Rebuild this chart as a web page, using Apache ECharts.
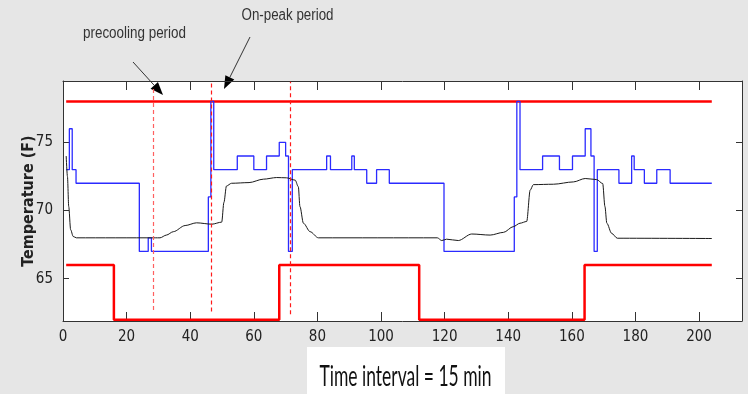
<!DOCTYPE html>
<html>
<head>
<meta charset="utf-8">
<script src="https://cdn.jsdelivr.net/npm/echarts@6/dist/echarts.min.js"></script>
<style>
  html, body { margin: 0; padding: 0; background: #e6e6e6; }
  #chart { width: 748px; height: 394px; }
</style>
</head>
<body>
<div id="chart"></div>
<script>
// setpoint (blue) - step changes, value holds until next x
const setX = [1, 2, 2.9, 4.1, 24, 26.8, 27.8, 45.7, 46.5, 47.4, 54.8, 60, 64, 68, 70, 70.9, 72.1,
  82.9, 84.1, 90.8, 91.6, 95.5, 98.6, 102.6, 119.8, 141.9, 142.7, 143.7, 150.8, 156.1, 160.2,
  164.2, 166, 167, 168, 174.8, 178.8, 179.6, 182.8, 186.7, 190.9, 204];
const setY = [73, 76, 73, 72, 67, 68, 67, 71, 78, 73, 74, 73, 74, 75, 74, 67, 73,
  74, 73, 74, 73, 72, 73, 72, 67, 71, 78, 73, 74, 73, 74,
  76, 74, 67, 73, 72, 74, 73, 72, 73, 72, 72];

// indoor temperature (black)
const tempX = [1, 1.4, 1.8, 2.4, 3.2, 4.2, 29, 30.5, 32.5, 34.7, 38.4, 42, 46.8, 49.9, 50.6, 51.4,
  53, 58.5, 63, 67.2, 70.3, 73, 74, 74.5, 75.6, 77.7, 80.3, 117.7, 119.1, 120.6, 124.3, 128.5,
  134.3, 138.5, 141.6, 143.7, 145.8, 146.9, 147.9, 154.2, 160.5, 164.2, 167.8, 169.7, 170.4,
  171, 172.5, 174.3, 204];
const tempY = [74, 72.5, 70.3, 68.6, 68.1, 68, 68, 68, 68.2, 68.45, 68.9, 69.1, 69.0, 69.15, 70.6, 71.8,
  72.0, 72.05, 72.3, 72.42, 72.4, 72.23, 71.74, 70.3, 69.07, 68.45, 68.0, 68, 67.8, 67.9, 67.8, 68.28,
  68.2, 68.4, 68.82, 69.07, 69.2, 71.5, 71.9, 71.93, 72.1, 72.35, 72.27, 71.98, 70.3,
  69.07, 68.33, 67.97, 67.95];

// comfort bounds (red)
const lowX = [1, 16, 68, 112, 164, 204];
const lowY = [66, 62, 66, 62, 66, 66];
const highX = [1, 204];
const highY = [78, 78];

// dashed period markers
const markX = [28.5, 46.6, 71.6];
const markTop = [79.1, 79.4, 79.45];
const markBottom = [62.7, 62.6, 62.4];
const markColor = ['#ff6060', '#ff1a1a', '#ff1a1a'];

const yTicks = [65, 70, 75];

const pairs = (xs, ys) => xs.map((x, i) => [x, ys[i]]);
const tickFont = '"Liberation Sans Narrow", "DejaVu Sans Condensed", "Liberation Sans", sans-serif';

function arrow(x1, y1, x2, y2) {
  const a = Math.atan2(y2 - y1, x2 - x1), L = 13, W = 5;
  const bx = x2 - L * Math.cos(a), by = y2 - L * Math.sin(a);
  return [
    { type: 'line', shape: { x1: x1, y1: y1, x2: bx, y2: by }, style: { stroke: '#333', lineWidth: 1 } },
    { type: 'polygon', shape: { points: [[x2, y2], [bx + W * Math.sin(a), by - W * Math.cos(a)], [bx - W * Math.sin(a), by + W * Math.cos(a)]] }, style: { fill: '#000' } }
  ];
}

// squeeze text horizontally to the width seen in the picture
const ctx = document.createElement('canvas').getContext('2d');
function fitScale(text, font, width) {
  ctx.font = font;
  return width / ctx.measureText(text).width;
}
const noteText = 'Time interval = 15 min';
const noteFont = '29px Lato';
const annFont = '16px "Liberation Sans", sans-serif';

const xBase = {
  type: 'value', min: 0, max: 213.5, interval: 20,
  axisLine: { onZero: false, lineStyle: { color: '#333' } },
  axisTick: { inside: true, length: 9, lineStyle: { color: '#333' } },
  splitLine: { show: false }
};
const yBase = {
  type: 'value', min: 61.9, max: 79.5,
  axisLine: { show: true, onZero: false, lineStyle: { color: '#333' } },
  axisTick: { show: true, inside: true, length: 6, customValues: yTicks, lineStyle: { color: '#333' } },
  splitLine: { show: false }
};

const myChart = echarts.init(document.getElementById('chart'));
const option = {
  backgroundColor: '#e6e6e6',
  animation: false,
  grid: { left: 63, right: 6, top: 81, bottom: 73, show: true, backgroundColor: '#fff', borderWidth: 0 },
  xAxis: [
    Object.assign({}, xBase, { position: 'bottom',
      axisLabel: { color: '#222', fontSize: 15, fontFamily: tickFont, margin: 9, showMaxLabel: false } }),
    Object.assign({}, xBase, { position: 'top', axisLabel: { show: false } })
  ],
  yAxis: [
    Object.assign({}, yBase, { position: 'left',
      axisLabel: { customValues: yTicks, color: '#222', fontSize: 15, fontFamily: tickFont, margin: 10 },
      name: 'Temperature (F)', nameLocation: 'middle', nameGap: 26, nameMoveOverlap: false,
      nameTextStyle: { color: '#222', fontSize: 16, fontWeight: 'bold', fontFamily: tickFont } }),
    Object.assign({}, yBase, { position: 'right', axisLabel: { show: false } })
  ],
  series: [
    {
      name: 'upper', type: 'line', data: pairs(highX, highY), symbol: 'none',
      lineStyle: { color: '#ff0000', width: 2.5 },
      markLine: {
        silent: true, symbol: 'none', label: { show: false },
        lineStyle: { color: '#ff1a1a', type: [4, 3], width: 1.2 },
        data: markX.map((x, i) => [
          { coord: [x, markBottom[i]], lineStyle: { color: markColor[i] } },
          { coord: [x, markTop[i]], lineStyle: { color: markColor[i] } }
        ])
      }
    },
    {
      name: 'lower', type: 'line', step: 'end', data: pairs(lowX, lowY), symbol: 'none',
      lineStyle: { color: '#ff0000', width: 2.5 }
    },
    {
      name: 'setpoint', type: 'line', step: 'end', data: pairs(setX, setY), symbol: 'none',
      lineStyle: { color: '#2b2bff', width: 1.3 }
    },
    {
      name: 'temperature', type: 'line', data: pairs(tempX, tempY), symbol: 'none',
      smooth: 0.3, smoothMonotone: 'x',
      lineStyle: { color: '#1a1a1a', width: 1 }
    }
  ],
  graphic: [
    { type: 'text', x: 134.5, y: 34, scaleX: fitScale('precooling period', annFont, 103),
      style: { text: 'precooling period', font: annFont, fill: '#333', align: 'center', verticalAlign: 'middle' } },
    { type: 'text', x: 287.5, y: 16, scaleX: fitScale('On-peak period', annFont, 92),
      style: { text: 'On-peak period', font: annFont, fill: '#333', align: 'center', verticalAlign: 'middle' } },
    ...arrow(133, 62, 163, 95),
    ...arrow(250, 37, 224, 89),
    { type: 'rect', shape: { x: 307, y: 347, width: 198, height: 47 }, style: { fill: '#fff' } },
    { type: 'text', x: 405.5, y: 377, scaleX: fitScale(noteText, noteFont, 172),
      style: { text: noteText, font: noteFont, fill: '#111', align: 'center', verticalAlign: 'middle' } }
  ]
};
myChart.setOption(option);
</script>
</body>
</html>
